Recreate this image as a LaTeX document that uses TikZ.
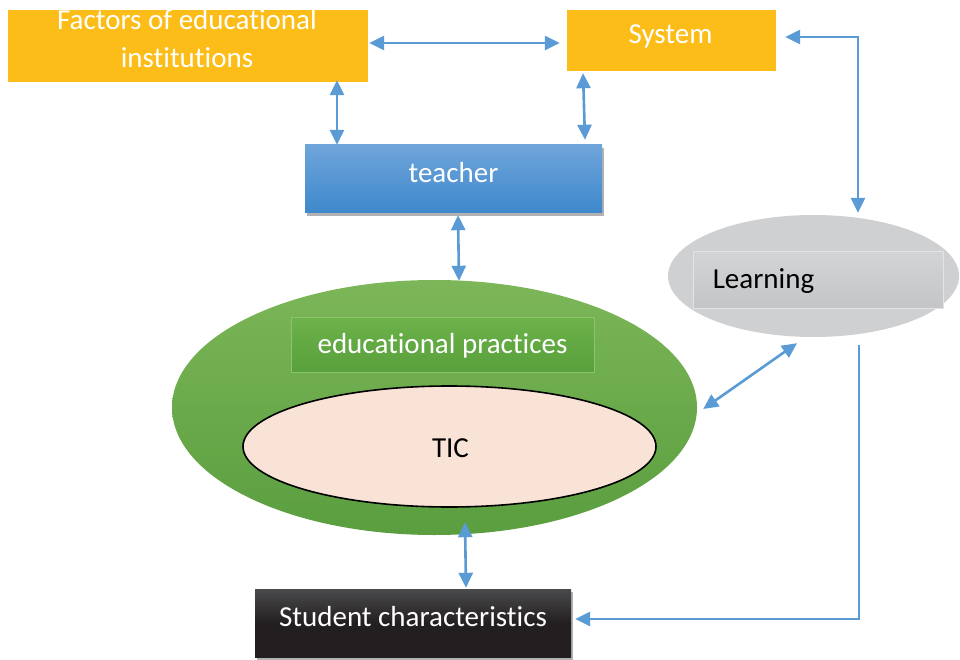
\documentclass[tikz,border=0pt]{standalone}
\usepackage{fontspec}
\setmainfont{Carlito}[Ligatures=NoCommon]
\usetikzlibrary{arrows.meta,calc,shapes.geometric,shadows}
\definecolor{orangebox}{HTML}{FCBD18}
\definecolor{arrowblue}{HTML}{5B9BD5}
\definecolor{bluetop}{HTML}{6FA5DA}
\definecolor{bluebot}{HTML}{3E88CC}
\definecolor{greentop}{HTML}{7CB658}
\definecolor{greenbot}{HTML}{5A9E3F}
\definecolor{edutop}{HTML}{6DB24A}
\definecolor{edubot}{HTML}{58A03C}
\definecolor{eduline}{HTML}{8CC46E}
\definecolor{ticfill}{HTML}{F9E3D6}
\definecolor{learnfill}{HTML}{CFD0D2}
\definecolor{learntop}{HTML}{D3D4D6}
\definecolor{learnbot}{HTML}{C4C5C7}
\definecolor{learnline}{HTML}{E4E4E5}
\definecolor{darktop}{HTML}{4A4A4C}
\definecolor{darkbot}{HTML}{231F20}
\tikzset{
  boxbase/.style={rectangle, inner sep=0pt, draw=none},
  orangerect/.style={boxbase, fill=orangebox},
  shadowed/.style={drop shadow={shadow xshift=2pt, shadow yshift=-3pt, fill=black, opacity=0.3}},
  link/.style={draw=arrowblue, line width=2.6pt,
    arrows={Triangle[length=15pt,width=14pt]-Triangle[length=15pt,width=14pt]}},
  onelink/.style={draw=arrowblue, line width=2.6pt,
    arrows={-Triangle[length=15pt,width=14pt]}},
  wtext/.style={text=white, anchor=base, inner sep=0pt},
  btext/.style={text=black, anchor=base, inner sep=0pt},
}
\begin{document}
\begin{tikzpicture}[x=1pt, y=-1pt, font=\fontsize{29}{36}\selectfont]
\useasboundingbox (0,0) rectangle (960,660);
\fill[white] (0,0) rectangle (960,660);

% boxes
\node[orangerect, minimum width=360pt, minimum height=72pt] (factors) at (188,46) {};
\node[wtext] (factorsA) at ($(factors.center)+(-1,-16)$) {Factors of educational};
\node[wtext] (factorsB) at ($(factors.center)+(-1,22)$) {institutions};

\node[orangerect, minimum width=209pt, minimum height=61pt] (system) at (671.5,40.5) {};
\node[wtext] (systemT) at ($(system.center)+(-1,3.5)$) {System};

\node[boxbase, shadowed, top color=bluetop, bottom color=bluebot,
      minimum width=297pt, minimum height=68pt] (teacher) at (453.5,179) {};
\node[wtext] (teacherT) at ($(teacher.center)+(0,4)$) {teacher};

% green ellipse with inner parts
\node[ellipse, inner sep=0pt, top color=greentop, bottom color=greenbot,
      minimum width=525pt, minimum height=255pt] (practice) at (434.5,407.5) {};
\node[boxbase, draw=eduline, line width=0.6pt, top color=edutop, bottom color=edubot,
      minimum width=303pt, minimum height=55pt] (edu) at (442.5,344.5) {};
\node[wtext] (eduT) at ($(edu.center)+(0,9)$) {educational practices};
\node[ellipse, inner sep=0pt, draw=black, line width=1.6pt, fill=ticfill,
      minimum width=413pt, minimum height=121pt] (tic) at (449.5,446.5) {};
\node[btext] (ticT) at ($(tic.center)+(1,10.5)$) {TIC};

% learning
\node[ellipse, inner sep=0pt, fill=learnfill,
      minimum width=291pt, minimum height=122pt] (learning) at (813.5,276) {};
\node[boxbase, draw=learnline, line width=0.8pt, top color=learntop, bottom color=learnbot,
      minimum width=250pt, minimum height=57pt] (learnbox) at (818,279.5) {};
\node[btext, anchor=base west] (learnT) at ($(learnbox.west)+(20,8.5)$) {Learning};

% student
\node[boxbase, shadowed, top color=darktop, bottom color=darkbot, middle color=darkbot,
      minimum width=316pt, minimum height=68pt] (student) at (413,623) {};
\node[wtext] (studentT) at ($(student.center)+(0,3)$) {Student characteristics};

% connectors
\draw[link] ($(factors.east)+(1,-3)$) -- ($(system.west)+(-7,2.5)$);
\draw[link] ($(factors.south)+(149,-2)$) -- ($(teacher.north)+(-116.5,0)$);
\draw[link] ($(system.south)+(-88.5,2)$) -- ($(teacher.north)+(131.5,-5)$);
\draw[link] ($(teacher.south)+(4.5,2)$) -- ($(practice.north)+(24.5,1)$);
\draw[link] ($(practice.south)+(30.5,-13)$) -- ($(student.north)+(53,-1)$);
\draw[link] ($(practice.east)+(6,1.5)$) -- ($(learning.south)+(-16.5,6)$);
\draw[link] ($(system.east)+(9,-3.5)$) -| ($(learning.north)+(44.5,-2)$);
\draw[onelink] ($(learning.south)+(45.5,8)$) |- ($(student.east)+(4,-4)$);
\end{tikzpicture}
\end{document}
